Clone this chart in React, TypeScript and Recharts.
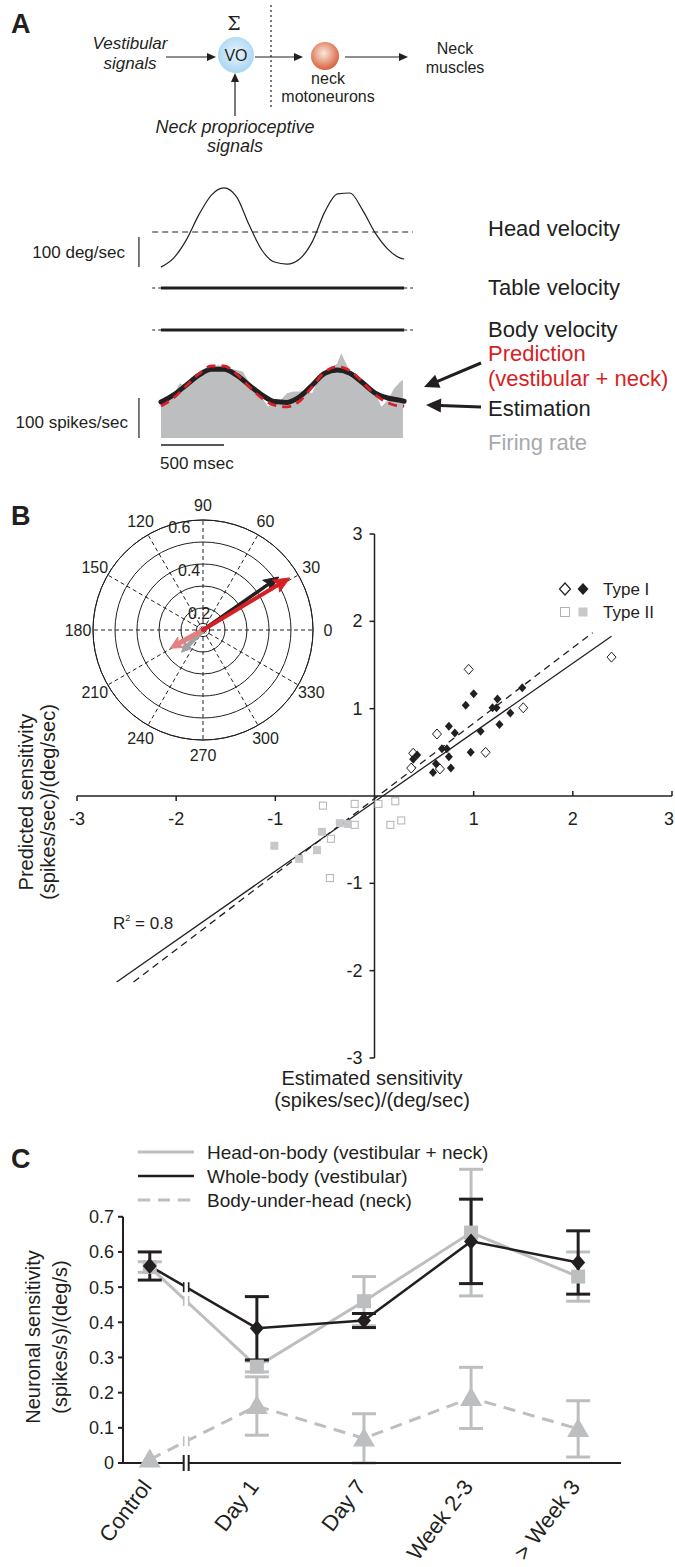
import React from 'react';
import {
  LineChart, Line, ComposedChart, Area, XAxis, YAxis, ReferenceLine, ReferenceDot,
  ScatterChart, Scatter, RadarChart, Radar, PolarGrid, PolarAngleAxis, PolarRadiusAxis, ErrorBar,
} from 'recharts';

const FONT = '"Liberation Sans", Arial, Helvetica, sans-serif';
const INK = '#231f20';
const GREY = '#bcbec0';
const LIGHT = '#b1b3b6';
const RED = '#d71f26';
const PINK = '#e38080';
const MIDGREY = '#a0a2a5';

// ---------- Panel A: traces (time in ms) ----------
const headTime = [0, 100, 200, 300, 400, 500, 600, 700, 800, 900, 1000, 1100, 1200, 1300, 1400, 1500, 1600, 1700, 1800, 1900, 1930];
const headVelocity = [-117, -87, -27, 57, 123, 147, 117, 23, -60, -100, -107, -90, -33, 67, 127, 130, 73, -3, -57, -87, -90];
const tableTime = [0, 1930];
const tableVelocity = [0, 0];
const bodyVelocity = [0, 0];
const rateTime = [0, 50, 100, 150, 200, 250, 300, 350, 400, 450, 500, 550, 600, 650, 700, 750, 800, 850, 900, 950, 1000,
  1050, 1100, 1150, 1200, 1250, 1300, 1350, 1400, 1430, 1450, 1500, 1550, 1600, 1650, 1700, 1750, 1800, 1850, 1900, 1920];
const firingRate = [82, 95, 108, 137, 128, 141, 157, 166, 177, 182, 180, 174, 170, 166, 138, 120, 102, 78, 91, 95, 112,
  116, 116, 118, 112, 149, 166, 174, 187, 212, 199, 166, 152, 147, 132, 112, 78, 95, 124, 141, 145];
const estimation = [90, 108, 132, 157, 172, 172, 157, 132, 108, 91, 89, 103, 132, 162, 170, 162, 138, 112, 100, 94, 92];
const prediction = [80, 100, 130, 160, 180, 180, 160, 128, 100, 82, 78, 92, 128, 165, 178, 168, 140, 108, 88, 80, 80];
const SCALE_T = -175;
const DEG_BAR = [-117, -17];
const SPIKE_BAR = [0, 100];
const TIME_BAR = [0, 500];
const TIME_BAR_Y = -17.5;

// ---------- Panel B ----------
const typeIOpen = [
  { x: 0.95, y: 1.45 }, { x: 2.39, y: 1.59 }, { x: 1.5, y: 1.01 }, { x: 1.12, y: 0.5 },
  { x: 0.63, y: 0.71 }, { x: 0.39, y: 0.49 }, { x: 0.37, y: 0.32 }, { x: 0.66, y: 0.31 },
];
const typeIFilled = [
  { x: 1.0, y: 1.17 }, { x: 0.92, y: 1.04 }, { x: 1.24, y: 1.11 }, { x: 1.19, y: 1.01 }, { x: 1.23, y: 1.01 },
  { x: 1.49, y: 1.24 }, { x: 1.37, y: 0.95 }, { x: 1.26, y: 0.82 }, { x: 1.07, y: 0.74 }, { x: 0.75, y: 0.8 },
  { x: 0.81, y: 0.72 }, { x: 0.97, y: 0.5 }, { x: 0.68, y: 0.54 }, { x: 0.73, y: 0.54 }, { x: 0.75, y: 0.45 },
  { x: 0.77, y: 0.32 }, { x: 0.39, y: 0.42 }, { x: 0.43, y: 0.47 }, { x: 0.62, y: 0.37 }, { x: 0.59, y: 0.27 },
];
const typeIIOpen = [
  { x: -0.52, y: -0.11 }, { x: -0.2, y: -0.09 }, { x: 0.04, y: -0.09 }, { x: 0.21, y: -0.06 }, { x: -0.2, y: -0.33 },
  { x: -0.44, y: -0.49 }, { x: -0.45, y: -0.94 }, { x: 0.16, y: -0.33 }, { x: 0.27, y: -0.28 },
];
const typeIIFilled = [
  { x: -1.01, y: -0.57 }, { x: -0.76, y: -0.72 }, { x: -0.58, y: -0.62 }, { x: -0.53, y: -0.41 },
  { x: -0.35, y: -0.31 }, { x: -0.27, y: -0.32 },
];
const solidFit = [{ x: -2.6, y: -2.13 }, { x: 2.39, y: 1.83 }];
const dashedFit = [{ x: -2.43, y: -2.13 }, { x: 2.2, y: 1.87 }];
const axisTicksB = [-3, -2, -1, 1, 2, 3];

// polar inset (radial axis runs from 0.1 at the centre to 0.6 at the rim)
const angleTicks = [0, 30, 60, 90, 120, 150, 180, 210, 240, 270, 300, 330];
const ringValues = [0.13, 0.2, 0.3, 0.4, 0.5, 0.6];
const ringLabels = [0.2, 0.4, 0.6];
const R_MIN = 0.1;
const R_MAX = 0.6;
const vectorNames = ['pink', 'grey', 'black', 'red'];
const vectorAngles = [209, 226, 35, 31];
const vectorGains = [0.27, 0.24, 0.52, 0.56];

// ---------- Panel C ----------
const recoveryLabels = ['Control', 'Day 1', 'Day 7', 'Week 2-3', '> Week 3'];
const headOnBody = [0.557, 0.274, 0.46, 0.655, 0.53];
const headOnBodyErr = [0.015, 0.015, 0.07, 0.18, 0.07];
const wholeBody = [0.56, 0.383, 0.405, 0.63, 0.57];
const wholeBodyErr = [0.04, 0.09, 0.02, 0.12, 0.09];
const bodyUnderHead = [0.01, 0.162, 0.07, 0.185, 0.097];
const bodyUnderHeadErr = [0, 0.083, 0.07, 0.087, 0.08];
const cTicks = [0, 0.1, 0.2, 0.3, 0.4, 0.5, 0.6, 0.7];
const BREAK_X = 0.34;

const headData = headTime.map((t, i) => ({ t, v: headVelocity[i] }));
const tableData = tableTime.map((t, i) => ({ t, v: tableVelocity[i] }));
const bodyData = tableTime.map((t, i) => ({ t, v: bodyVelocity[i] }));
const rateData = rateTime.map((t, i) => ({ t, rate: firingRate[i] }));
const estData = headTime.map((t, i) => ({ t, est: estimation[i] }));
const predData = headTime.map((t, i) => ({ t, pred: prediction[i] }));

// radial values normalised to the 0.1–0.6 span of the plot
const toRadial = (g: number) => (g - R_MIN) / (R_MAX - R_MIN);
const fromRadial = (r: number) => R_MIN + r * (R_MAX - R_MIN);
const ringTicks = ringValues.map(toRadial);
const arrowData: any[] = [];
vectorNames.forEach((name, i) => {
  arrowData.push({ angle: vectorAngles[i], [name]: toRadial(R_MIN) });
  arrowData.push({ angle: vectorAngles[i], [name]: toRadial(vectorGains[i]) });
});

const recoveryData = recoveryLabels.map((_, i) => ({
  x: i,
  head: headOnBody[i], headErr: headOnBodyErr[i],
  whole: wholeBody[i], wholeErr: wholeBodyErr[i],
  body: bodyUnderHead[i], bodyErr: bodyUnderHeadErr[i],
}));
const lerpBreak = (v: number[]) => v[0] + (v[1] - v[0]) * BREAK_X;

const pos = (left: number, top: number): React.CSSProperties => ({ position: 'absolute', left, top });
const NO_MARGIN = { top: 0, right: 0, bottom: 0, left: 0 };

// ---------- small shapes ----------
const OpenDiamond = (p: any) => (
  <polygon points={`${p.cx},${p.cy - 5} ${p.cx + 4.5},${p.cy} ${p.cx},${p.cy + 5} ${p.cx - 4.5},${p.cy}`} fill="#fff" stroke={INK} strokeWidth={1} />
);
const FilledDiamond = (p: any) => (
  <polygon points={`${p.cx},${p.cy - 4.5} ${p.cx + 4},${p.cy} ${p.cx},${p.cy + 4.5} ${p.cx - 4},${p.cy}`} fill={INK} />
);
const OpenSquare = (p: any) => (
  <rect x={p.cx - 3.5} y={p.cy - 3.5} width={7} height={7} fill="#fff" stroke={LIGHT} strokeWidth={1} />
);
const FilledSquare = (p: any) => (
  <rect x={p.cx - 4} y={p.cy - 4} width={8} height={8} fill="#c7c8ca" />
);

const XTickMark = (p: any) => {
  const up = p.payload.x > 0;
  const shift = p.payload.x === 3 ? -3 : 0;
  return (
    <g>
      <line x1={p.cx} x2={p.cx} y1={p.cy} y2={up ? p.cy - 5 : p.cy + 5} stroke={INK} strokeWidth={1.5} />
      <text x={p.cx + shift} y={p.cy + 23} textAnchor="middle" dominantBaseline="central" fontSize={18} fill={INK} fontFamily={FONT}>{p.payload.x}</text>
    </g>
  );
};
const YTickMark = (p: any) => (
  <g>
    <line x1={p.cx - 5} x2={p.cx} y1={p.cy} y2={p.cy} stroke={INK} strokeWidth={1.5} />
    <text x={p.cx - 12} y={p.cy} textAnchor="end" dominantBaseline="central" fontSize={18} fill={INK} fontFamily={FONT}>{p.payload.y}</text>
  </g>
);

const AngleTick = (p: any) => {
  if (p.payload.value >= 360) return <g />;
  return (
    <text x={p.x} y={p.y} textAnchor="middle" dominantBaseline="central" fontSize={16} fill={INK} fontFamily={FONT}>{p.payload.value}</text>
  );
};
const RingTick = (p: any) => {
  const v = fromRadial(p.payload.value);
  if (!ringLabels.some((r) => Math.abs(r - v) < 1e-6)) return <g />;
  return (
    <text x={p.x + 1} y={p.y + 5} textAnchor="middle" dominantBaseline="central" fontSize={16} fill={INK} fontFamily={FONT}>{v.toFixed(1)}</text>
  );
};

const arrowShape = (key: string, color: string, w: number, head: number, hw: number) => (props: any) => {
  const pts = (props.points || []).filter((q: any) => q.payload && q.payload[key] != null && isFinite(q.x));
  if (pts.length < 2) return <g />;
  const a = pts[0];
  const b = pts[pts.length - 1];
  const dx = b.x - a.x, dy = b.y - a.y;
  const len = Math.hypot(dx, dy) || 1;
  const ux = dx / len, uy = dy / len;
  const bx = b.x - ux * head, by = b.y - uy * head;
  const nx = b.x - ux * (head - 3), ny = b.y - uy * (head - 3);
  return (
    <g>
      <line x1={a.x} y1={a.y} x2={nx} y2={ny} stroke={color} strokeWidth={w} strokeLinecap="round" />
      <polygon
        points={`${b.x},${b.y} ${bx - uy * hw},${by + ux * hw} ${nx},${ny} ${bx + uy * hw},${by - ux * hw}`}
        fill={color}
        stroke={color}
        strokeWidth={1}
        strokeLinejoin="round"
      />
    </g>
  );
};

const SquareDot = (p: any) => <rect key={`s${p.index}`} x={p.cx - 7} y={p.cy - 7} width={14} height={14} fill={GREY} />;
const DiamondDot = (p: any) => (
  <polygon key={`d${p.index}`} points={`${p.cx},${p.cy - 8} ${p.cx + 7},${p.cy} ${p.cx},${p.cy + 8} ${p.cx - 7},${p.cy}`} fill={INK} />
);
const TriangleDot = (p: any) => (
  <polygon key={`t${p.index}`} points={`${p.cx},${p.cy - 11} ${p.cx + 11},${p.cy + 8} ${p.cx - 11},${p.cy + 8}`} fill={GREY} />
);
const breakShape = (color: string, h: number, w: number) => (p: any) => (
  <g>
    <rect x={p.cx - 2.5} y={p.cy - h / 2 - 1} width={5} height={h + 2} fill="#fff" />
    <line x1={p.cx - 2.5} x2={p.cx - 2.5} y1={p.cy - h / 2} y2={p.cy + h / 2} stroke={color} strokeWidth={w} />
    <line x1={p.cx + 2.5} x2={p.cx + 2.5} y1={p.cy - h / 2} y2={p.cy + h / 2} stroke={color} strokeWidth={w} />
  </g>
);

const CatTick = (p: any) => {
  const label = recoveryLabels[p.payload.value];
  return (
    <text transform={`translate(${p.x + 3},${p.y + 16}) rotate(-53)`} textAnchor="end" fontSize={22} fill={INK} fontFamily={FONT}>
      {label}
    </text>
  );
};

const Arrow = ({ x1, y1, x2, y2, w = 1.2, head = 9, hw = 4 }: any) => {
  const dx = x2 - x1, dy = y2 - y1;
  const len = Math.hypot(dx, dy);
  const ux = dx / len, uy = dy / len;
  const bx = x2 - ux * head, by = y2 - uy * head;
  return (
    <g>
      <line x1={x1} y1={y1} x2={bx + ux} y2={by + uy} stroke={INK} strokeWidth={w} />
      <polygon points={`${x2},${y2} ${bx - uy * hw},${by + ux * hw} ${bx + uy * hw},${by - ux * hw}`} fill={INK} />
    </g>
  );
};

const traceX: any = { type: 'number', dataKey: 't', domain: [-246, 2000], hide: true, allowDataOverflow: true };

export default function App() {
  const t = { fontFamily: FONT, fill: INK };
  return (
    <div style={{ position: 'absolute', left: 0, top: 0, width: 675, height: 1567, background: '#fff', overflow: 'hidden', fontFamily: FONT }}>
      {/* Panel A traces */}
      <div style={pos(130, 172)}>
        <LineChart width={283} height={105} data={headData} margin={NO_MARGIN}>
          <XAxis {...traceX} />
          <YAxis hide type="number" domain={[-150, 200]} allowDataOverflow />
          <ReferenceLine segment={[{ x: -70, y: 0 }, { x: 2000, y: 0 }]} stroke={INK} strokeDasharray="6 4" strokeWidth={1} />
          <ReferenceLine segment={[{ x: SCALE_T, y: DEG_BAR[0] }, { x: SCALE_T, y: DEG_BAR[1] }]} stroke={INK} strokeWidth={1.2} />
          <Line dataKey="v" type="monotone" stroke={INK} strokeWidth={1.2} dot={false} isAnimationActive={false} />
        </LineChart>
      </div>
      {[{ top: 278, data: tableData }, { top: 320, data: bodyData }].map((row) => (
        <div key={row.top} style={pos(130, row.top)}>
          <LineChart width={283} height={20} data={row.data} margin={NO_MARGIN}>
            <XAxis {...traceX} />
            <YAxis hide type="number" domain={[-1, 1]} allowDataOverflow />
            <ReferenceLine segment={[{ x: -70, y: 0 }, { x: 2000, y: 0 }]} stroke={INK} strokeDasharray="3 3" strokeWidth={1} />
            <Line dataKey="v" stroke={INK} strokeWidth={3.2} dot={false} isAnimationActive={false} />
          </LineChart>
        </div>
      ))}
      <div style={pos(130, 340)}>
        <ComposedChart width={283} height={110} data={rateData} margin={NO_MARGIN}>
          <XAxis {...traceX} />
          <YAxis hide type="number" domain={[-30, 245]} allowDataOverflow />
          <Area dataKey="rate" type="linear" fill={GREY} fillOpacity={1} stroke="none" baseValue={0} isAnimationActive={false} />
          <Line data={estData} dataKey="est" type="monotone" stroke={INK} strokeWidth={5} strokeLinecap="round" dot={false} isAnimationActive={false} />
          <Line data={predData} dataKey="pred" type="monotone" stroke={RED} strokeWidth={2.8} strokeDasharray="9 6" dot={false} isAnimationActive={false} />
          <ReferenceLine segment={[{ x: SCALE_T, y: SPIKE_BAR[0] }, { x: SCALE_T, y: SPIKE_BAR[1] }]} stroke={INK} strokeWidth={1.2} />
          <ReferenceLine segment={[{ x: TIME_BAR[0], y: TIME_BAR_Y }, { x: TIME_BAR[1], y: TIME_BAR_Y }]} stroke={INK} strokeWidth={1.5} />
        </ComposedChart>
      </div>

      {/* Panel B scatter */}
      <div style={pos(0, 500)}>
        <ScatterChart width={675} height={600} margin={{ top: 34, right: 3, bottom: 42, left: 77 }}>
          <XAxis type="number" dataKey="x" domain={[-3, 3]} hide />
          <YAxis type="number" dataKey="y" domain={[-3, 3]} hide />
          <ReferenceLine y={0} stroke={INK} strokeWidth={1.5} />
          <ReferenceLine x={0} stroke={INK} strokeWidth={1.5} />
          <ReferenceLine segment={solidFit} stroke={INK} strokeWidth={1.3} />
          <ReferenceLine segment={dashedFit} stroke={INK} strokeWidth={1.3} strokeDasharray="7 5" />
          <Scatter data={axisTicksB.map((v) => ({ x: v, y: 0 }))} shape={XTickMark} isAnimationActive={false} />
          <Scatter data={axisTicksB.map((v) => ({ x: 0, y: v }))} shape={YTickMark} isAnimationActive={false} />
          <Scatter data={typeIIOpen} shape={OpenSquare} isAnimationActive={false} />
          <Scatter data={typeIIFilled} shape={FilledSquare} isAnimationActive={false} />
          <Scatter data={typeIOpen} shape={OpenDiamond} isAnimationActive={false} />
          <Scatter data={typeIFilled} shape={FilledDiamond} isAnimationActive={false} />
        </ScatterChart>
      </div>

      {/* Polar inset */}
      <div style={pos(43, 470)}>
        <RadarChart width={320} height={320} cx={160} cy={160} outerRadius={110} startAngle={0} endAngle={360} data={arrowData} margin={NO_MARGIN}>
          <PolarGrid gridType="circle" radialLines={false} stroke={INK} strokeWidth={1} />
          <PolarGrid gridType="circle" polarRadius={[0.01]} stroke={INK} strokeDasharray="4 3" strokeWidth={1} />
          <PolarAngleAxis dataKey="angle" type="number" domain={[0, 360]} ticks={angleTicks as any} tickCount={13}
            tick={AngleTick} tickSize={15} tickLine={false} axisLineType="circle" axisLine={{ stroke: INK }} />
          <PolarRadiusAxis type="number" scale="linear" domain={[0, 1]} allowDataOverflow ticks={ringTicks as any}
            angle={103} axisLine={false} tickLine={false} tick={RingTick} />
          <Radar dataKey="grey" shape={arrowShape('grey', MIDGREY, 5, 10, 5)} isAnimationActive={false} />
          <Radar dataKey="pink" shape={arrowShape('pink', PINK, 5, 12, 6)} isAnimationActive={false} />
          <Radar dataKey="black" shape={arrowShape('black', INK, 3.5, 15, 6.5)} isAnimationActive={false} />
          <Radar dataKey="red" shape={arrowShape('red', RED, 4, 16, 7)} isAnimationActive={false} />
        </RadarChart>
      </div>

      {/* Panel C */}
      <div style={pos(0, 1100)}>
        <ComposedChart width={675} height={467} data={recoveryData} margin={{ top: 64, right: 54, bottom: 74, left: 83 }}>
          <XAxis type="number" dataKey="x" domain={[-0.25, 4.4]} ticks={[0, 1, 2, 3, 4]} interval={0} height={30}
            tick={CatTick} tickLine={false} axisLine={{ stroke: INK, strokeWidth: 2 }} />
          <YAxis type="number" domain={[0, 0.85]} ticks={cTicks} width={40} axisLine={false}
            tickLine={{ stroke: INK, strokeWidth: 2 }} tickSize={5} tickMargin={4}
            tick={{ fill: INK, fontSize: 18, fontFamily: FONT }} tickFormatter={(v: number) => (v === 0 ? '0' : v.toFixed(1))} />
          <ReferenceLine segment={[{ x: -0.25, y: 0 }, { x: -0.25, y: 0.7 }]} stroke={INK} strokeWidth={2} />
          <Line dataKey="head" stroke={GREY} strokeWidth={3} dot={SquareDot} isAnimationActive={false}>
            <ErrorBar dataKey="headErr" width={12} strokeWidth={3} stroke={GREY} />
          </Line>
          <Line dataKey="body" stroke={GREY} strokeWidth={3} strokeDasharray="12 8" dot={TriangleDot} isAnimationActive={false}>
            <ErrorBar dataKey="bodyErr" width={12} strokeWidth={3} stroke={GREY} />
          </Line>
          <Line dataKey="whole" stroke={INK} strokeWidth={2.5} dot={DiamondDot} isAnimationActive={false}>
            <ErrorBar dataKey="wholeErr" width={12} strokeWidth={3} stroke={INK} />
          </Line>
          <ReferenceDot x={BREAK_X} y={lerpBreak(headOnBody)} r={0} shape={breakShape(GREY, 10, 1.6)} />
          <ReferenceDot x={BREAK_X} y={lerpBreak(bodyUnderHead)} r={0} shape={breakShape(GREY, 10, 1.6)} />
          <ReferenceDot x={BREAK_X} y={lerpBreak(wholeBody)} r={0} shape={breakShape(INK, 10, 1.6)} />
          <ReferenceDot x={BREAK_X} y={0} r={0} shape={breakShape(INK, 16, 2)} />
        </ComposedChart>
      </div>

      {/* annotations */}
      <svg width={675} height={1567} style={{ position: 'absolute', left: 0, top: 0, pointerEvents: 'none' }}>
        <defs>
          <radialGradient id="vo" cx="50%" cy="45%" r="55%">
            <stop offset="0%" stopColor="#e8f4fd" />
            <stop offset="100%" stopColor="#a9d6f3" />
          </radialGradient>
          <radialGradient id="mn" cx="45%" cy="40%" r="60%">
            <stop offset="0%" stopColor="#fde8dc" />
            <stop offset="100%" stopColor="#d6603c" />
          </radialGradient>
        </defs>
        <g style={t as any}>
          <text x={11} y={33} fontSize={27} fontWeight="bold">A</text>
          <text x={11} y={525} fontSize={27} fontWeight="bold">B</text>
          <text x={11} y={1168} fontSize={27} fontWeight="bold">C</text>

          {/* schematic */}
          <text x={234} y={30} fontSize={19} textAnchor="middle" fontFamily='"DejaVu Serif", serif'>Σ</text>
          <text x={130} y={49} fontSize={17} fontStyle="italic" textAnchor="middle">Vestibular</text>
          <text x={130} y={69} fontSize={17} fontStyle="italic" textAnchor="middle">signals</text>
          <Arrow x1={166} y1={57} x2={216} y2={57} />
          <circle cx={236} cy={55} r={18} fill="url(#vo)" />
          <text x={236} y={61} fontSize={16} textAnchor="middle">VO</text>
          <Arrow x1={235} y1={116} x2={235} y2={73} />
          <line x1={271} y1={5} x2={271} y2={108} stroke={INK} strokeWidth={1.2} strokeDasharray="2 3" />
          <Arrow x1={255} y1={57} x2={303} y2={57} />
          <circle cx={325} cy={56} r={14} fill="url(#mn)" />
          <text x={328} y={84} fontSize={16} textAnchor="middle">neck</text>
          <text x={328} y={102} fontSize={16} textAnchor="middle">motoneurons</text>
          <Arrow x1={345} y1={57} x2={408} y2={57} />
          <text x={455} y={54} fontSize={16} textAnchor="middle">Neck</text>
          <text x={455} y={73} fontSize={16} textAnchor="middle">muscles</text>
          <text x={235} y={133} fontSize={18} fontStyle="italic" textAnchor="middle">Neck proprioceptive</text>
          <text x={235} y={152} fontSize={18} fontStyle="italic" textAnchor="middle">signals</text>

          {/* trace labels */}
          <text x={125} y={258} fontSize={17} textAnchor="end">100 deg/sec</text>
          <text x={128} y={428} fontSize={17} textAnchor="end">100 spikes/sec</text>
          <text x={160} y={469} fontSize={17}>500 msec</text>
          <text x={488} y={236} fontSize={22}>Head velocity</text>
          <text x={488} y={295} fontSize={22}>Table velocity</text>
          <text x={488} y={337} fontSize={22}>Body velocity</text>
          <text x={488} y={361} fontSize={22} fill={RED}>Prediction</text>
          <text x={488} y={386} fontSize={22} fill={RED}>(vestibular + neck)</text>
          <text x={488} y={416} fontSize={22}>Estimation</text>
          <text x={488} y={450} fontSize={22} fill="#a7a9ac">Firing rate</text>
          <Arrow x1={481} y1={363} x2={424} y2={387} w={3} head={15} hw={7} />
          <Arrow x1={481} y1={407} x2={426} y2={405} w={3} head={15} hw={7} />

          {/* panel B texts */}
          <text x={113} y={929} fontSize={17}>R<tspan fontSize={9} dy={-8}>2</tspan><tspan dy={8}> = 0.8</tspan></text>
          <text x={372} y={1085} fontSize={20} textAnchor="middle">Estimated sensitivity</text>
          <text x={372} y={1107} fontSize={20} textAnchor="middle">(spikes/sec)/(deg/sec)</text>
          <text transform="translate(26,802) rotate(-90)" fontSize={20} textAnchor="middle" dominantBaseline="central">Predicted sensitivity</text>
          <text transform="translate(48,802) rotate(-90)" fontSize={20} textAnchor="middle" dominantBaseline="central">(spikes/sec)/(deg/sec)</text>
          <polygon points="565,583 570.5,589 565,595 559.5,589" fill="#fff" stroke={INK} strokeWidth={1.2} />
          <polygon points="583,583 588.5,589 583,595 577.5,589" fill={INK} />
          <text x={603} y={595} fontSize={17}>Type I</text>
          <rect x={560.5} y={607.5} width={9} height={9} fill="#fff" stroke={LIGHT} strokeWidth={1} />
          <rect x={578.5} y={607.5} width={9} height={9} fill="#c7c8ca" />
          <text x={603} y={618} fontSize={17}>Type II</text>

          {/* panel C texts */}
          <line x1={138} x2={194} y1={1152} y2={1152} stroke={GREY} strokeWidth={3} />
          <line x1={138} x2={194} y1={1176} y2={1176} stroke={INK} strokeWidth={2.5} />
          <line x1={138} x2={194} y1={1200} y2={1200} stroke={GREY} strokeWidth={3} strokeDasharray="12 8" />
          <text x={207} y={1152} fontSize={19} dominantBaseline="central">Head-on-body (vestibular + neck)</text>
          <text x={207} y={1176} fontSize={19} dominantBaseline="central">Whole-body (vestibular)</text>
          <text x={207} y={1200} fontSize={19} dominantBaseline="central">Body-under-head (neck)</text>
          <text transform="translate(33,1337) rotate(-90)" fontSize={20} textAnchor="middle" dominantBaseline="central">Neuronal sensitivity</text>
          <text transform="translate(60,1337) rotate(-90)" fontSize={20} textAnchor="middle" dominantBaseline="central">(spikes/s)/(deg/s)</text>
        </g>
      </svg>
    </div>
  );
}
